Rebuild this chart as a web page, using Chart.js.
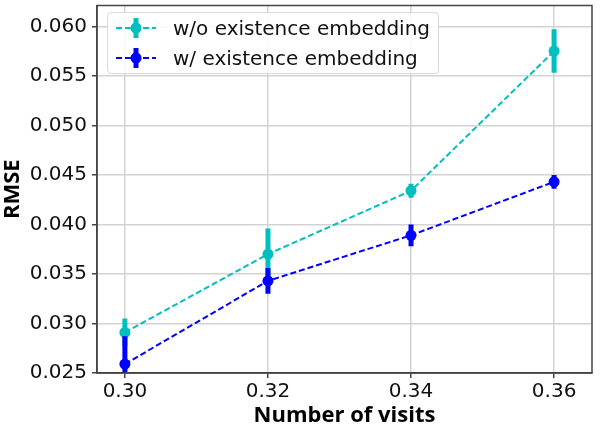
<!DOCTYPE html>
<html>
<head>
<meta charset="utf-8">
<script src="https://cdn.jsdelivr.net/npm/chart.js@4.4.0/dist/chart.umd.min.js"></script>
<style>
  html, body { margin: 0; padding: 0; background: #fff; }
  #wrap { position: relative; width: 600px; height: 429px; }
  #legend {
    position: absolute; left: 107px; top: 12px; width: 332px; height: 62px;
    box-sizing: border-box; border: 1px solid #d9d9d9; border-radius: 4px;
    background: rgba(255,255,255,0.85);
    font-family: "DejaVu Sans", sans-serif; font-size: 20px; color: #111;
  }
  .row { position: absolute; left: 0; height: 30px; display: flex; align-items: center; white-space: nowrap; }
  .row svg { margin-left: 7px; margin-right: 16px; }
</style>
</head>
<body>
<div id="wrap">
  <canvas id="chart" width="600" height="429"></canvas>
  <div id="legend"></div>
</div>
<script>
// values
const visits = [0.30, 0.32, 0.34, 0.36];
const rmseWithout = [0.0291, 0.0370, 0.0434, 0.0575];
const errWithout = [0.0014, 0.0026, 0.0007, 0.0022];
const rmseWith = [0.0259, 0.0343, 0.0389, 0.0443];
const errWith = [0.0028, 0.0013, 0.0011, 0.0007];
const xTicks = [0.30, 0.32, 0.34, 0.36];
const yTicks = [0.025, 0.030, 0.035, 0.040, 0.045, 0.050, 0.055, 0.060];

const CYAN = '#00BFBF';
const BLUE = '#0000FF';

const series = [
  { label: 'w/o existence embedding', color: CYAN, values: rmseWithout, errors: errWithout, order: 2 },
  { label: 'w/ existence embedding', color: BLUE, values: rmseWith, errors: errWith, order: 1 }
];

// vertical error bars, drawn just before each dataset's line
const errorBars = {
  id: 'errorBars',
  beforeDatasetDraw(chart, args) {
    const ds = chart.data.datasets[args.index];
    const { ctx, chartArea, scales } = chart;
    ctx.save();
    ctx.beginPath();
    ctx.rect(chartArea.left, chartArea.top, chartArea.right - chartArea.left, chartArea.bottom - chartArea.top);
    ctx.clip();
    ctx.strokeStyle = ds.borderColor;
    ctx.lineWidth = 5;
    ds.data.forEach((p, i) => {
      const x = scales.x.getPixelForValue(p.x);
      ctx.beginPath();
      ctx.moveTo(x, scales.y.getPixelForValue(p.y - ds.errors[i]));
      ctx.lineTo(x, scales.y.getPixelForValue(p.y + ds.errors[i]));
      ctx.stroke();
    });
    ctx.restore();
  }
};

// matplotlib style box round the axes
const frame = {
  id: 'frame',
  afterDraw(chart) {
    const { ctx, chartArea } = chart;
    ctx.save();
    ctx.strokeStyle = '#444';
    ctx.lineWidth = 1.5;
    ctx.strokeRect(chartArea.left, chartArea.top, chartArea.right - chartArea.left, chartArea.bottom - chartArea.top);
    ctx.restore();
  }
};

new Chart(document.getElementById('chart'), {
  type: 'line',
  data: {
    datasets: series.map(s => ({
      label: s.label,
      data: visits.map((x, i) => ({ x: x, y: s.values[i] })),
      errors: s.errors,
      borderColor: s.color,
      backgroundColor: s.color,
      borderWidth: 2,
      borderDash: [6, 3],
      pointRadius: 5.5,
      pointBorderWidth: 0,
      pointHoverRadius: 5.5,
      order: s.order
    }))
  },
  options: {
    responsive: false,
    animation: false,
    events: [],
    layout: { padding: { top: -3, right: 8, left: 0, bottom: 0 } },
    plugins: { legend: { display: false }, tooltip: { enabled: false } },
    scales: {
      x: {
        type: 'linear',
        min: 0.2961,
        max: 0.3653,
        afterBuildTicks: s => { s.ticks = xTicks.map(v => ({ value: v })); },
        afterFit: s => { s.height = 56; },
        grid: { color: '#d3d3d3', lineWidth: 1.5, tickColor: '#444', tickLength: 5 },
        border: { display: true, color: '#444', width: 1.5 },
        ticks: {
          padding: 2,
          color: '#111',
          font: { family: 'DejaVu Sans', size: 20 },
          callback: v => v.toFixed(2)
        },
        title: {
          display: true,
          text: 'Number of visits',
          color: '#000',
          padding: { top: 0, bottom: 0 },
          font: { family: 'Open Sans', size: 22, weight: 'bold' }
        }
      },
      y: {
        min: 0.025,
        max: 0.0621,
        afterBuildTicks: s => { s.ticks = yTicks.map(v => ({ value: v })); },
        afterFit: s => { s.width = 97; s.paddingTop = 0; },
        grid: { color: '#d3d3d3', lineWidth: 1.5, tickColor: '#444', tickLength: 5 },
        border: { display: true, color: '#444', width: 1.5 },
        ticks: {
          padding: 5,
          color: '#111',
          font: { family: 'DejaVu Sans', size: 20 },
          callback: v => v.toFixed(3)
        },
        title: {
          display: true,
          text: 'RMSE',
          color: '#000',
          padding: { top: 0, bottom: 0 },
          font: { family: 'Open Sans', size: 22, weight: 'bold' }
        }
      }
    }
  },
  plugins: [errorBars, frame]
});

// legend inside the axes, upper left
const legend = document.getElementById('legend');
series.forEach((s, i) => {
  const row = document.createElement('div');
  row.className = 'row';
  row.style.top = (i * 30) + 'px';
  row.innerHTML =
    '<svg width="42" height="26">' +
    '<line x1="1" y1="13" x2="41" y2="13" stroke="' + s.color + '" stroke-width="2" stroke-dasharray="6 3"/>' +
    '<line x1="21" y1="3" x2="21" y2="23" stroke="' + s.color + '" stroke-width="5"/>' +
    '<circle cx="21" cy="13" r="5.5" fill="' + s.color + '"/>' +
    '</svg><span>' + s.label + '</span>';
  legend.appendChild(row);
});
</script>
</body>
</html>
